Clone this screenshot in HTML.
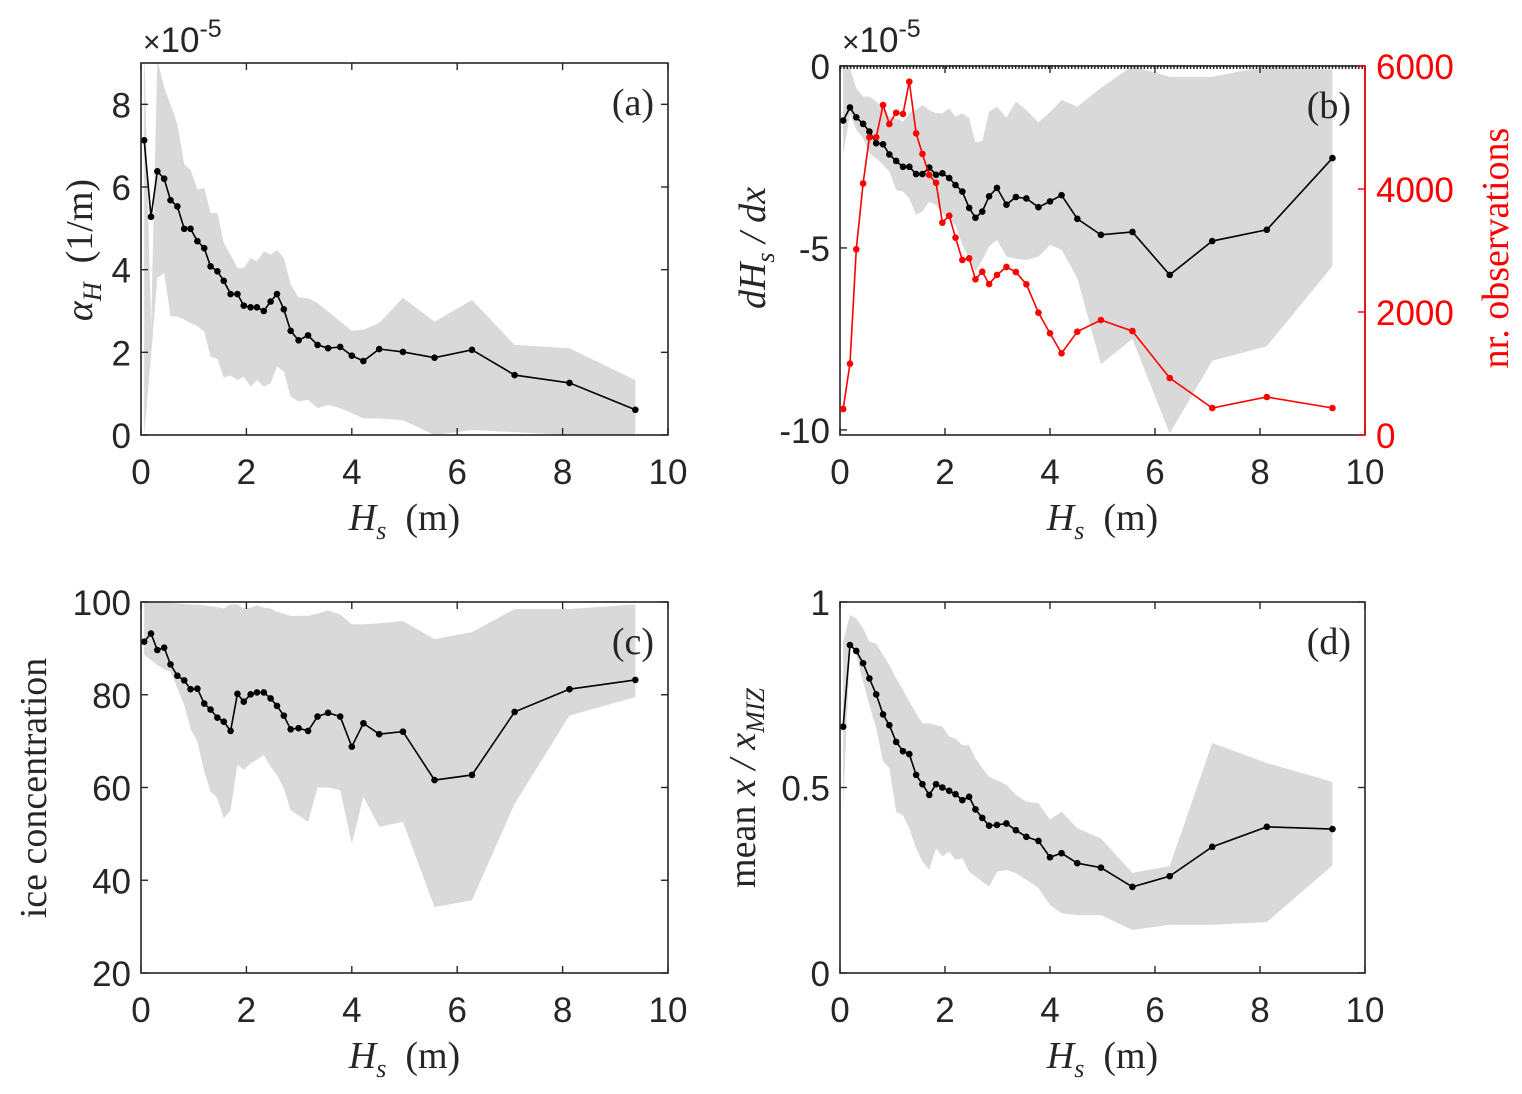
<!DOCTYPE html>
<html><head><meta charset="utf-8">
<style>
html,body{margin:0;padding:0;background:#fff;}
svg{display:block;}
.tk{font-family:"Liberation Sans",sans-serif;font-size:35px;fill:#262626;}
.sr{font-family:"Liberation Serif",serif;font-size:38px;fill:#262626;}
</style></head>
<body>
<svg id="fig" width="1522" height="1094" viewBox="0 0 1522 1094" xmlns="http://www.w3.org/2000/svg"></svg>
<script>
const hs=[0.06,0.19,0.31,0.44,0.56,0.69,0.82,0.94,1.07,1.2,1.32,1.45,1.57,1.7,1.83,1.95,2.08,2.2,2.33,2.46,2.58,2.71,2.84,2.99,3.17,3.35,3.55,3.78,4.0,4.22,4.52,4.97,5.57,6.28,7.09,8.13,9.38];
const alphaMean=[7.13,5.28,6.38,6.2,5.68,5.53,4.99,4.99,4.69,4.52,4.08,3.96,3.73,3.41,3.41,3.13,3.09,3.09,3.0,3.23,3.41,3.04,2.52,2.29,2.41,2.18,2.10,2.13,1.92,1.79,2.08,2.01,1.87,2.06,1.45,1.26,0.61];
const alphaUpper=[9.5,2.6,9.09,8.4,8.0,7.52,6.55,6.42,5.94,5.98,5.37,5.37,4.65,4.36,4.04,4.04,4.28,4.2,4.44,4.36,4.48,4.28,3.64,3.33,3.31,3.19,2.99,2.75,2.52,2.55,2.71,3.32,2.74,3.27,2.18,2.1,1.33];
const alphaLower=[0,1.9,3.8,3.92,2.87,2.87,2.79,2.71,2.63,2.5,1.9,1.84,1.39,1.44,1.33,1.41,1.17,1.33,1.17,1.25,1.66,1.54,0.93,0.81,0.85,0.65,0.73,0.65,0.53,0.4,0.4,0.36,0,0.12,0.07,0,0];
const dhMean=[-1.50,-1.14,-1.41,-1.59,-1.80,-2.12,-2.15,-2.43,-2.61,-2.77,-2.77,-2.97,-2.97,-2.79,-2.99,-2.95,-3.08,-3.27,-3.45,-3.90,-4.17,-4.0,-3.58,-3.35,-3.81,-3.60,-3.64,-3.88,-3.72,-3.55,-4.2,-4.64,-4.56,-5.74,-4.81,-4.5,-2.53];
const dhUpper=[0,-0.06,-0.61,-0.84,-0.84,-0.98,-1.12,-1.39,-1.44,-1.53,-1.30,-1.21,-1.07,-1.21,-1.30,-1.30,-1.16,-1.39,-1.30,-1.44,-2.10,-2.06,-1.25,-1.12,-1.42,-0.98,-1.21,-1.55,-1.27,-0.93,-1.12,-0.6,0,-0.3,-0.3,0,-0.1];
const dhLower=[-2.44,-1.3,-1.76,-1.99,-2.40,-2.54,-2.72,-2.90,-3.41,-3.45,-3.64,-4.09,-4.00,-3.73,-3.82,-4.05,-4.23,-4.37,-4.92,-5.28,-5.65,-5.33,-4.96,-4.78,-5.24,-5.30,-5.33,-5.24,-4.92,-5.05,-5.83,-8.2,-7.5,-10.1,-8.1,-7.7,-5.5];
const nObs=[423,1160,3020,4090,4840,4840,5366,5057,5240,5220,5745,4906,4570,4228,4100,3452,3566,3208,2845,2873,2532,2655,2455,2602,2732,2650,2450,1989,1653,1328,1680,1870,1690,927,439,618,439];
const iceMean=[91.45,93.2,89.65,90.15,86.55,84.1,83.1,81.2,81.3,78.1,76.8,75.05,74.2,72.2,80.2,78.5,80.1,80.5,80.5,79.2,77.6,75.5,72.55,72.8,72.2,75.3,76.1,75.3,68.8,73.85,71.5,72.05,61.6,62.7,76.3,81.2,83.2];
const iceUpper=[99.9,99.9,99.9,99.9,99.8,99.7,99.6,99.5,99.4,99.3,99.1,98.9,98.6,99.5,99.5,98.6,98.8,99.3,98.8,98.6,97.9,97.5,97.0,97.0,97.0,97.5,98.2,97.3,95.2,95.2,95.4,95.9,92.0,93.5,98.5,98.5,99.5];
const iceLower=[88.6,87.5,86.4,85.5,85,81.4,77.8,72.7,69.9,63.4,59.1,57.7,53.3,55.1,64.9,63.8,65.2,66,67,64.5,62.7,59.8,55.1,54,52.6,60,60,59.4,47.9,58,51.5,52.6,34.2,35.7,56.5,75.5,79.5];
const xmMean=[0.664,0.884,0.868,0.835,0.794,0.751,0.697,0.668,0.623,0.598,0.590,0.534,0.509,0.480,0.509,0.500,0.491,0.482,0.466,0.475,0.441,0.418,0.397,0.399,0.403,0.385,0.367,0.356,0.312,0.323,0.296,0.284,0.232,0.261,0.340,0.394,0.388];
const xmUpper=[0.893,0.965,0.956,0.929,0.893,0.888,0.857,0.830,0.794,0.763,0.731,0.700,0.673,0.673,0.668,0.664,0.637,0.632,0.614,0.614,0.579,0.552,0.529,0.520,0.507,0.480,0.462,0.458,0.413,0.435,0.390,0.363,0.27,0.288,0.62,0.566,0.515];
const xmLower=[0.444,0.884,0.857,0.785,0.722,0.659,0.57,0.552,0.434,0.425,0.39,0.336,0.3,0.278,0.336,0.314,0.327,0.305,0.309,0.273,0.26,0.246,0.233,0.273,0.278,0.269,0.251,0.229,0.183,0.161,0.156,0.156,0.116,0.13,0.13,0.137,0.29];
const xTicks=[0,2,4,6,8,10];

const NS="http://www.w3.org/2000/svg";
const svg=document.getElementById('fig');
function el(tag,attrs,parent){const e=document.createElementNS(NS,tag);for(const k in attrs)e.setAttribute(k,attrs[k]);(parent||svg).appendChild(e);return e;}
function lin(d0,d1,r0,r1){return v=>r0+(v-d0)*(r1-r0)/(d1-d0);}

function panel(id,box,ylim,yticks,ytickLabels,upper,lower,mean,label){
  const g=el('g',{});
  
  
  const sx=lin(0,10,box.l,box.r), sy=lin(ylim[0],ylim[1],box.b,box.t);
  const cp=el('clipPath',{id:'clip'+id},g);
  el('rect',{x:box.l,y:box.t,width:box.r-box.l,height:box.b-box.t},cp);
  let pts=hs.map((x,i)=>sx(x)+','+sy(upper[i]));
  for(let i=hs.length-1;i>=0;i--)pts.push(sx(hs[i])+','+sy(lower[i]));
  const band=el('polygon',{points:pts.join(' '),fill:'#d9d9d9','clip-path':'url(#clip'+id+')'},g);
  
  
  const line=el('polyline',{points:hs.map((x,i)=>sx(x)+','+sy(mean[i])).join(' '),fill:'none',stroke:'#000','stroke-width':1.6},g);
  
  
  hs.forEach((x,i)=>{const c=el('circle',{cx:sx(x),cy:sy(mean[i]),r:3.3,fill:'#000'},g);
    
    });
  const fr=el('rect',{x:box.l,y:box.t,width:box.r-box.l,height:box.b-box.t,fill:'none',stroke:'#262626','stroke-width':1.6},g);
  
  
  xTicks.forEach(v=>{const X=sx(v);
    el('line',{x1:X,x2:X,y1:box.b,y2:box.b-7,stroke:'#262626','stroke-width':1.4},g);
    el('line',{x1:X,x2:X,y1:box.t,y2:box.t+7,stroke:'#262626','stroke-width':1.4},g);
    const t=el('text',{x:X,y:box.b+49,'text-anchor':'middle',class:'tk'},g);t.textContent=v;
    
    });
  yticks.forEach((v,i)=>{const Y=sy(v);
    el('line',{x1:box.l,x2:box.l+7,y1:Y,y2:Y,stroke:'#262626','stroke-width':1.4},g);
    if(!box.noRightTicks)el('line',{x1:box.r,x2:box.r-7,y1:Y,y2:Y,stroke:'#262626','stroke-width':1.4},g);
    const t=el('text',{x:box.l-10,y:Y+13,'text-anchor':'end',class:'tk'},g);t.textContent=ytickLabels[i];
    
    });
  const xl=el('text',{x:(box.l+box.r)/2,y:box.b+95,'text-anchor':'middle',class:'sr'},g);
  xl.innerHTML='<tspan font-style="italic">H</tspan><tspan font-style="italic" font-size="26" dy="9">s</tspan><tspan dy="-9" xml:space="preserve">  (m)</tspan>';
  
  
  const pl=el('text',{x:box.r-14,y:box.t+52,'text-anchor':'end',class:'sr'},g);pl.textContent=label;
  
  
  return {sx,sy,g};
}

panel('a',{l:141,r:668,t:63,b:435},[0,9],[0,2,4,6,8],['0','2','4','6','8'],alphaUpper,alphaLower,alphaMean,'(a)');
const pb=panel('b',{l:840,r:1365,t:66,b:435,noRightTicks:true},[-10.14,0],[-10,-5,0],['-10','-5','0'],dhUpper,dhLower,dhMean,'(b)');
const sr=lin(0,6000,435,66);
const redLine=el('polyline',{points:hs.map((x,i)=>pb.sx(x)+','+sr(nObs[i])).join(' '),fill:'none',stroke:'#ff0000','stroke-width':1.6});


hs.forEach((x,i)=>{const c=el('circle',{cx:pb.sx(x),cy:sr(nObs[i]),r:3.3,fill:'#ff0000'});
  
  });
const rax=el('line',{x1:1365,x2:1365,y1:66,y2:435,stroke:'#ff0000','stroke-width':1.6});


const topDots=el('line',{x1:840,x2:1365,y1:67,y2:67,stroke:'#262626','stroke-width':4,'stroke-dasharray':'1.5 1.8'});


[0,2000,4000,6000].forEach(v=>{const Y=sr(v);
  el('line',{x1:1365,x2:1358,y1:Y,y2:Y,stroke:'#ff0000','stroke-width':1.4});
  const t=el('text',{x:1376,y:Y+13,class:'tk',style:'fill:#ff0000'});t.textContent=v;
  
  });
panel('c',{l:141,r:668,t:602,b:973},[20,100],[20,40,60,80,100],['20','40','60','80','100'],iceUpper,iceLower,iceMean,'(c)');
panel('d',{l:840,r:1365,t:602,b:973},[0,1],[0,0.5,1],['0','0.5','1'],xmUpper,xmLower,xmMean,'(d)');

function txt(html,x,y,rot,name,extra){const t=el('text',Object.assign({x:x,y:y,'text-anchor':'middle',class:'sr'},extra||{}));
  if(rot)t.setAttribute('transform','rotate(-90 '+x+' '+y+')');t.innerHTML=html;
  
  return t;}
txt('<tspan font-style="italic">α</tspan><tspan font-style="italic" font-size="26" dy="9">H</tspan><tspan dy="-9" xml:space="preserve">  (1/m)</tspan>',92,250,true,'y-axis-title-a');
txt('<tspan font-style="italic">dH</tspan><tspan font-style="italic" font-size="26" dy="9">s</tspan><tspan dy="-9" font-style="italic" xml:space="preserve"> / dx</tspan>',765,248,true,'y-axis-title-b');
txt('nr.  observations',1508,248,true,'y-axis-title-right',{style:'fill:#ff0000',"xml:space":"preserve"});
txt('ice concentration',46,788,true,'y-axis-title-c');
txt('mean <tspan font-style="italic" xml:space="preserve">x / x</tspan><tspan font-style="italic" font-size="26" dy="9">MIZ</tspan>',755,788,true,'y-axis-title-d');
function exp(x,name){const t=el('text',{x:x,y:52,class:'tk'});
  t.innerHTML='<tspan font-size="30">×</tspan>10<tspan font-size="25" dy="-15">-5</tspan>';
  
  }
exp(143,'exponent-label-a');exp(842,'exponent-label-b');
</script>
</body></html>
